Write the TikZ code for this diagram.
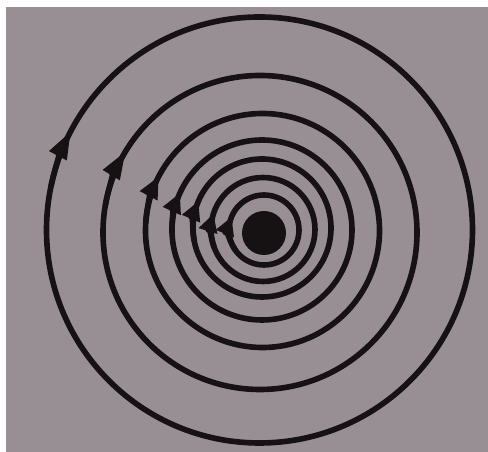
\documentclass[tikz,border=0pt]{standalone}
\usepackage{tikz}
\usetikzlibrary{arrows.meta}
\usepackage{xcolor}
\definecolor{paper}{RGB}{152,143,148}
\definecolor{ink}{RGB}{22,18,20}

\begin{document}
\begin{tikzpicture}[x=0.025cm,y=0.025cm,line cap=round,
  ring/.style={ink,line width=4pt},
  turnarrow/.style={ink,line width=4pt,-{Triangle[length=#1,width=4.6mm]}}]
\useasboundingbox (0,0) rectangle (488,452);
\fill[white] (0,0) rectangle (488,452);
\fill[paper] (6,0) rectangle (488,445);
\coordinate (c1) at (259.5,222);
\coordinate (c2) at (260,219.5);
\coordinate (c3) at (262.5,221.5);
\coordinate (c4) at (262,222);
\coordinate (c5) at (262,224);
\coordinate (c6) at (263,222.5);
\coordinate (c7) at (264,222);
\coordinate (core) at (264,219);
\draw[ring] (c1) circle[radius=213];
\draw[ring] (c2) circle[radius=157];
\draw[ring] (c3) circle[radius=117];
\draw[ring] (c4) circle[radius=90];
\draw[ring] (c5) circle[radius=69];
\draw[ring] (c6) circle[radius=52];
\draw[ring] (c7) circle[radius=35];
\fill[ink] (core) circle[radius=22];
\draw[turnarrow=7mm] (c1) ++(168:213) arc[start angle=168,end angle=152.3,radius=213];
\draw[turnarrow=7mm] (c2) ++(170:157) arc[start angle=170,end angle=148.8,radius=157];
\draw[turnarrow=5.5mm] (c3) ++(176:117) arc[start angle=176,end angle=152.4,radius=117];
\draw[turnarrow=5mm] (c4) ++(182:90) arc[start angle=182,end angle=155.6,radius=90];
\draw[turnarrow=4.8mm] (c5) ++(190:69) arc[start angle=190,end angle=157,radius=69];
\draw[turnarrow=4.5mm] (c6) ++(200:52) arc[start angle=200,end angle=162.5,radius=52];
\draw[turnarrow=4.5mm] (c7) ++(215:35) arc[start angle=215,end angle=158,radius=35];
\end{tikzpicture}
\end{document}
